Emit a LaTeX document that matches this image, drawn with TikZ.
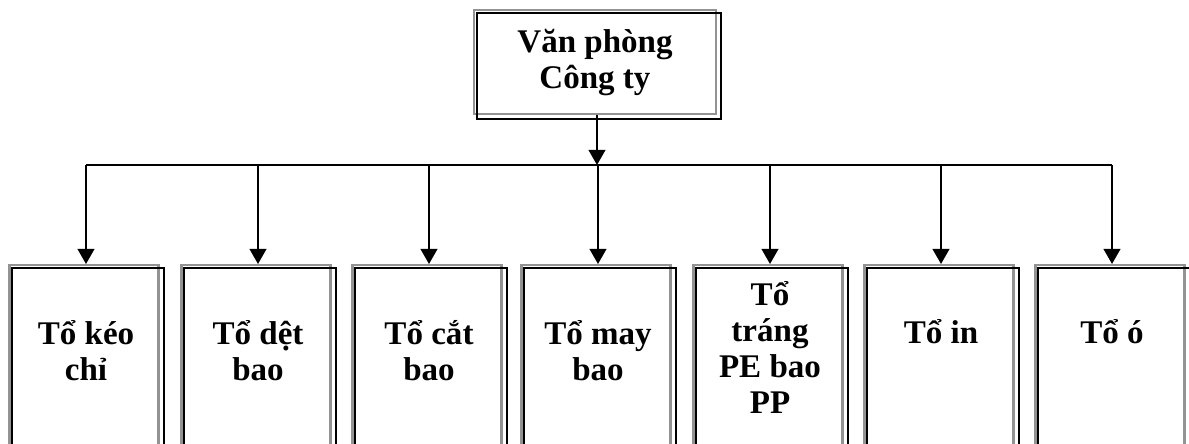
\documentclass[tikz,border=0pt]{standalone}
\usepackage{fontspec}
\setmainfont{Liberation Serif}
\usetikzlibrary{arrows.meta}

\tikzset{
  unitbox/.style={rectangle, draw=gray!85, line width=0.06cm, minimum width=3.725cm, minimum height=5cm, inner sep=0pt},
  shadowline/.style={draw=black, line width=0.055cm},
  unittext/.style={align=center, font=\bfseries\fontsize{23.5}{25.6}\selectfont},
  busline/.style={line width=0.05cm},
  link/.style={line width=0.05cm, -{Triangle[length=0.38cm, width=0.42cm]}}
}

\begin{document}
\begin{tikzpicture}[x=0.025cm, y=-0.025cm]
  \useasboundingbox (0,0) rectangle (1189,443);

  % head office
  \node (office) [unitbox, unittext, minimum width=6.05cm, minimum height=2.6cm] at (595,62) {Văn phòng\\Công ty};
  \draw[shadowline] ([shift={(4,4)}]office.north west) rectangle ([shift={(4,4)}]office.south east);

  \coordinate (hub) at (597,165);
  \draw[link] (hub |- office.south) -- (hub);

  % production teams
  \foreach \n/\x/\y/\t in {1/86/351/{Tổ kéo\\chỉ}, 2/258/351/{Tổ dệt\\bao}, 3/429/351/{Tổ cắt\\bao},
                           4/598/351/{Tổ may\\bao}, 5/770/347/{Tổ\\tráng\\PE bao\\PP},
                           6/941/332/{Tổ in}, 7/1112/332/{Tổ ó}} {
    \node (box\n) [unitbox, anchor=north] at (\x-2,264) {};
    \draw[shadowline] ([shift={(4,4)}]box\n.north west) rectangle ([shift={(4,4)}]box\n.south east);
    \node (text\n) [unittext] at (\x,\y) {\t};
    \coordinate (drop\n) at (\x,165);
    \draw[link] (drop\n) -- (drop\n |- box\n.north);
  }

  \draw[busline] (drop1) -- (drop7);
\end{tikzpicture}
\end{document}
